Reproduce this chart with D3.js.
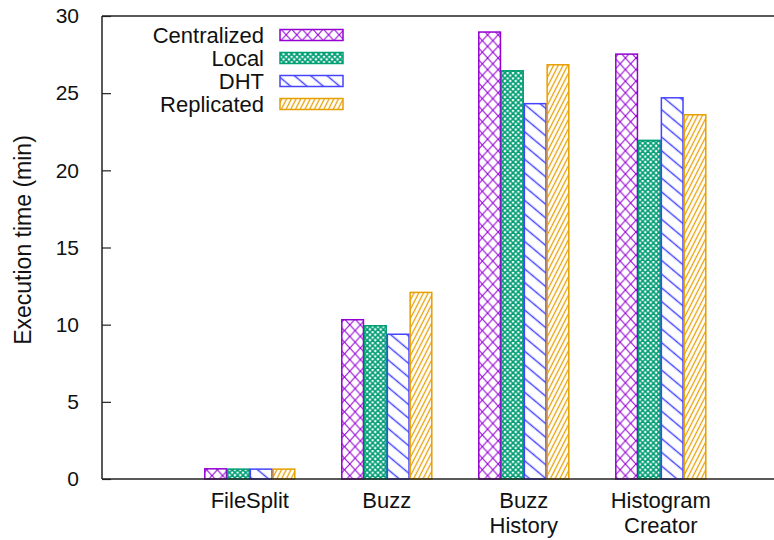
<!DOCTYPE html>
<html>
<head>
<meta charset="utf-8">
<script src="https://cdn.jsdelivr.net/npm/d3@7"></script>
<style>
  html, body { margin: 0; padding: 0; background: #fff; }
  svg { display: block; font-family: "Liberation Sans", Arial, Helvetica, sans-serif; }
</style>
</head>
<body>
<svg id="chart" width="774" height="540"></svg>
<script>
// ---- data ----
const categories = [["FileSplit"], ["Buzz"], ["Buzz", "History"], ["Histogram", "Creator"]];
const seriesNames = ["Centralized", "Local", "DHT", "Replicated"];
const centralized = [0.66, 10.32, 28.96, 27.53];
const local = [0.64, 9.93, 26.45, 21.94];
const dht = [0.64, 9.38, 24.32, 24.70];
const replicated = [0.64, 12.09, 26.84, 23.60];
const yTicks = [0, 5, 10, 15, 20, 25, 30];
const colors = ["#9400d3", "#009e73", "#4444ff", "#e69f00"];
const seriesValues = [centralized, local, dht, replicated];

// ---- layout ----
const W = 774, H = 540;
const mLeft = 102, mTop = 16, mBottom = 479;
const fontSize = 22;
const tickFont = 21;

const svg = d3.select("#chart");
svg.append("rect").attr("width", W).attr("height", H).attr("fill", "#fff");

// ---- patterns ----
const defs = svg.append("defs");
function crossPattern(id, color, w, h, sw) {
  const p = defs.append("pattern").attr("id", id)
    .attr("patternUnits", "userSpaceOnUse").attr("width", w).attr("height", h);
  p.append("line").attr("x1", 0).attr("y1", 0).attr("x2", w).attr("y2", h)
    .attr("stroke", color).attr("stroke-width", sw);
  p.append("line").attr("x1", 0).attr("y1", h).attr("x2", w).attr("y2", 0)
    .attr("stroke", color).attr("stroke-width", sw);
}
function stripePattern(id, color, spacing, angle, sw) {
  const p = defs.append("pattern").attr("id", id)
    .attr("patternUnits", "userSpaceOnUse").attr("width", 40).attr("height", spacing)
    .attr("patternTransform", `rotate(${angle})`);
  p.append("line").attr("x1", 0).attr("y1", spacing / 2).attr("x2", 40).attr("y2", spacing / 2)
    .attr("stroke", color).attr("stroke-width", sw);
}
crossPattern("pat0", colors[0], 10.6, 11.6, 1.1);
crossPattern("pat1", colors[1], 5.4, 5.4, 1.6);
stripePattern("pat2", colors[2], 10.5, 40, 1.2);
stripePattern("pat3", colors[3], 4.2, -63, 1.1);

// ---- scales ----
const y = d3.scaleLinear().domain([0, 30]).range([mBottom, mTop]);
const xCenter = d3.scalePoint().domain(d3.range(categories.length)).range([249.8, 660.8]);
const xInner = d3.scaleBand().domain(d3.range(seriesNames.length)).range([-45, 45]).paddingInner(0.05);

// ---- bars ----
seriesValues.forEach((vals, s) => {
  svg.append("g").selectAll("rect").data(vals).join("rect")
    .attr("x", (d, i) => xCenter(i) + xInner(s))
    .attr("y", d => y(d))
    .attr("width", xInner.bandwidth())
    .attr("height", d => y(0) - y(d))
    .attr("fill", `url(#pat${s})`)
    .attr("stroke", colors[s])
    .attr("stroke-width", 1.5);
});

// ---- axes / frame ----
const yAxis = d3.axisLeft(y).tickValues(yTicks).tickSize(-9).tickPadding(23).tickFormat(d3.format("d"));
const gy = svg.append("g").attr("transform", `translate(${mLeft},0)`).call(yAxis);
gy.select(".domain").remove();
gy.selectAll(".tick line").attr("stroke", "#222").attr("stroke-width", 1.2);
gy.selectAll(".tick text").attr("font-size", tickFont).attr("fill", "#111")
  .attr("font-family", "Liberation Sans, Arial, sans-serif");

svg.append("line").attr("x1", mLeft).attr("x2", mLeft).attr("y1", mTop).attr("y2", mBottom)
  .attr("stroke", "#222").attr("stroke-width", 1.5);
svg.append("line").attr("x1", mLeft).attr("x2", W).attr("y1", mTop).attr("y2", mTop)
  .attr("stroke", "#222").attr("stroke-width", 1.5);
svg.append("line").attr("x1", mLeft).attr("x2", W).attr("y1", mBottom).attr("y2", mBottom)
  .attr("stroke", "#222").attr("stroke-width", 1.5);

// ---- x labels ----
categories.forEach((lines, i) => {
  const t = svg.append("text").attr("text-anchor", "middle").attr("font-size", fontSize).attr("fill", "#111");
  lines.forEach((ln, k) => {
    t.append("tspan").attr("x", xCenter(i)).attr("y", 508 + k * 25).text(ln);
  });
});

// ---- y label ----
svg.append("text")
  .attr("transform", `translate(31,240) rotate(-90)`)
  .attr("text-anchor", "middle").attr("font-size", 23).attr("fill", "#111")
  .text("Execution time (min)");

// ---- legend ----
const legend = svg.append("g");
seriesNames.forEach((name, s) => {
  const cy = 35 + s * 23;
  legend.append("text").attr("x", 264).attr("y", cy + 7.5)
    .attr("text-anchor", "end").attr("font-size", fontSize).attr("fill", "#111").text(name);
  legend.append("rect").attr("x", 280).attr("y", cy - 5.5).attr("width", 63).attr("height", 11)
    .attr("fill", `url(#pat${s})`).attr("stroke", colors[s]).attr("stroke-width", 1.5);
});
</script>
</body>
</html>
